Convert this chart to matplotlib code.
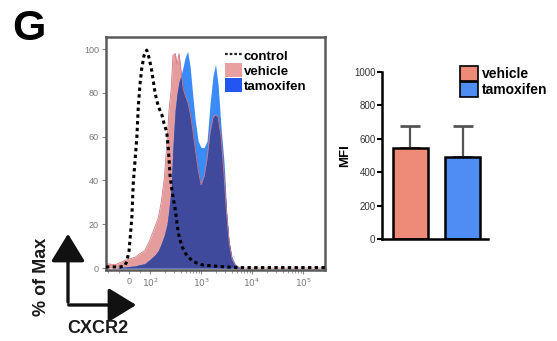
import numpy as np
import matplotlib
matplotlib.use("Agg")
import matplotlib.pyplot as plt
from matplotlib.patches import Patch, FancyArrowPatch
from matplotlib.lines import Line2D

plt.rcParams['font.family'] = ['Liberation Sans', 'DejaVu Sans']

# histogram data (fluorescence, % of max)
fluor = [-110, -65, -20, 30, 50, 75, 100, 125, 145, 165, 190, 215, 235, 260, 280, 310,
         340, 370, 405, 445, 485, 545, 610, 680, 765, 875, 1000, 1145, 1310, 1500, 1720,
         1920, 2150, 2470, 2830, 3160, 3540, 4050, 4640, 5310, 6080, 270000]
vehicle = [2, 1.5, 3.5, 5, 6.5, 8, 13, 19, 23, 30, 41, 58, 72, 82, 97, 98,
           93, 98, 90, 82, 79, 76, 71, 64, 55, 45, 38, 42, 50, 62, 69,
           70, 69, 60, 42, 25, 12, 4, 1.5, 0.5, 0, 0]
tamoxifen = [0, 0, 0.5, 1, 1.5, 2, 4, 6, 8, 11, 15, 20, 27, 37, 55, 72,
             80, 85, 88, 92, 96, 99, 92, 80, 68, 58, 55, 55, 58, 75, 88,
             93, 84, 64, 48, 27, 12, 5, 2, 0.8, 0, 0]
ctrl_x = [-110, -43, -20, -11, 0, 13, 20, 29, 37, 44, 52, 60, 71, 84, 95, 108, 125, 144,
          170, 188, 212, 229, 247, 270, 310, 358, 419, 485, 564, 698, 886, 1120, 1615,
          2960, 5800, 270000]
control = [0.5, 0.5, 1, 3, 8, 23, 39, 50, 60, 74, 84, 91, 97, 99.5, 96, 90, 80, 74,
           70, 66, 62, 54, 42, 35, 27, 16, 10, 7, 5, 3, 2, 1.3, 1, 0.5, 0.2, 0.2]
hist_ticks = [0, 100, 1000, 10000, 100000]
hist_ticklabels = ['0', '$10^2$', '$10^3$', '$10^4$', '$10^5$']

# bar data
groups = ['vehicle', 'tamoxifen']
mfi = [545, 493]
mfi_err = [130, 185]

pink = '#e59c9c'
blue = '#3a8af7'
navy = '#3f4a9c'
bar_cols = ['#ee8a78', '#4f8df5']


def fwd(x):
    x = np.asarray(x, float)
    lin = 2 + (x - 100) * 0.00412
    lg = np.log10(np.maximum(x, 100))
    return np.where(x >= 100, lg, lin)


def inv(u):
    u = np.asarray(u, float)
    lin = 100 + (u - 2) / 0.00412
    ex = 10 ** np.clip(u, 2, 12)
    return np.where(u >= 2, ex, lin)


fig = plt.figure(figsize=(5.57, 3.41), dpi=100)

# histogram
ax = fig.add_axes([0.1903, 0.2082, 0.3932, 0.6833])
ax.set_xscale('function', functions=(fwd, inv))
x = np.array(fluor, float)
v = np.array(vehicle, float)
t = np.array(tamoxifen, float)
ax.fill_between(x, v, color=pink, lw=0, zorder=1)
ax.fill_between(x, t, color=blue, lw=0, zorder=1)
ax.fill_between(x, np.minimum(v, t), color=navy, lw=0, zorder=2)
ax.plot(x, v, color='#d07a85', lw=0.6, zorder=2)
ax.plot(ctrl_x, control, color='black', lw=2.2, ls=(0, (1.1, 1.1)), zorder=3)
ax.set_xlim(-110, 270000)
ax.set_ylim(-0.9, 105.5)
ax.set_yticks([0, 20, 40, 60, 80, 100])
ax.set_xticks(hist_ticks)
ax.set_xticklabels(hist_ticklabels)
minors = [m * 10 ** k for k in (2, 3, 4) for m in range(2, 10)] + [-100, -50, 50]
ax.set_xticks(minors, minor=True)
ax.tick_params(axis='both', labelsize=6.5, labelcolor='#777777', color='#888888',
               length=3, width=0.8, pad=2)
ax.tick_params(axis='x', which='minor', length=2, color='#888888', width=0.6)
for s in ax.spines.values():
    s.set_color('#5a5a5a')
    s.set_linewidth(1.8)

handles = [Line2D([], [], color='#222222', lw=1.6, ls=(0, (1.2, 0.9))),
           Patch(facecolor='#e8a0a0', edgecolor='none'),
           Patch(facecolor='#2356f0', edgecolor='none')]
ax.legend(handles, ['control', 'vehicle', 'tamoxifen'], loc='upper left',
          bbox_to_anchor=(0.50, 0.99), frameon=False, handlelength=1.3,
          handleheight=1.2, handletextpad=0.15, labelspacing=0.05, borderpad=0.2,
          prop=dict(weight='bold', size=9.5))

# axis arrows and labels
fig.add_artist(FancyArrowPatch((68, 36), (68, 110), transform=None,
                               arrowstyle='-|>,head_length=0.9,head_width=0.55',
                               mutation_scale=19, lw=2.4, color='#111111'))
fig.add_artist(FancyArrowPatch((66, 36), (139, 36), transform=None,
                               arrowstyle='-|>,head_length=0.9,head_width=0.55',
                               mutation_scale=19, lw=2.4, color='#111111'))
fig.text(0.0754, 0.1877, '% of Max', rotation=90, ha='center', va='center',
         fontsize=13, fontweight='bold', color='#1a1a1a')
fig.text(0.175, 0.0381, 'CXCR2', ha='center', va='center',
         fontsize=13, fontweight='bold', color='#1a1a1a')
fig.text(0.022, 0.915, 'G', ha='left', va='center', fontsize=31, fontweight='bold')

# bar chart
bx = fig.add_axes([0.6853, 0.2991, 0.1908, 0.4906])
pos = np.arange(len(groups))
bx.errorbar(pos, mfi, yerr=[[0, 0], mfi_err], fmt='none', ecolor='#555555',
            elinewidth=1.6, capsize=7, capthick=2, zorder=1)
bx.bar(pos, mfi, width=0.66, color=bar_cols, edgecolor='black', lw=1.8, zorder=2)
bx.set_xlim(-0.55, 1.485)
bx.set_ylim(0, 1000)
bx.set_yticks([0, 200, 400, 600, 800, 1000])
bx.set_xticks([])
bx.tick_params(axis='y', labelsize=7, labelcolor='#333333', length=3.5, width=1.5, pad=1)
for s in ('top', 'right'):
    bx.spines[s].set_visible(False)
for s in ('left', 'bottom'):
    bx.spines[s].set_linewidth(1.8)
bx.set_ylabel('MFI', fontsize=9.5, fontweight='bold', labelpad=2)
bhandles = [Patch(facecolor=c, edgecolor='black', lw=1.2) for c in bar_cols]
bx.legend(bhandles, groups, loc='upper left', bbox_to_anchor=(0.70, 1.06),
          frameon=False, handlelength=1.3, handleheight=1.3, handletextpad=0.25,
          labelspacing=0.05, borderpad=0.1, borderaxespad=0.2,
          prop=dict(weight='bold', size=10))

fig.savefig('out.png', dpi=100)
